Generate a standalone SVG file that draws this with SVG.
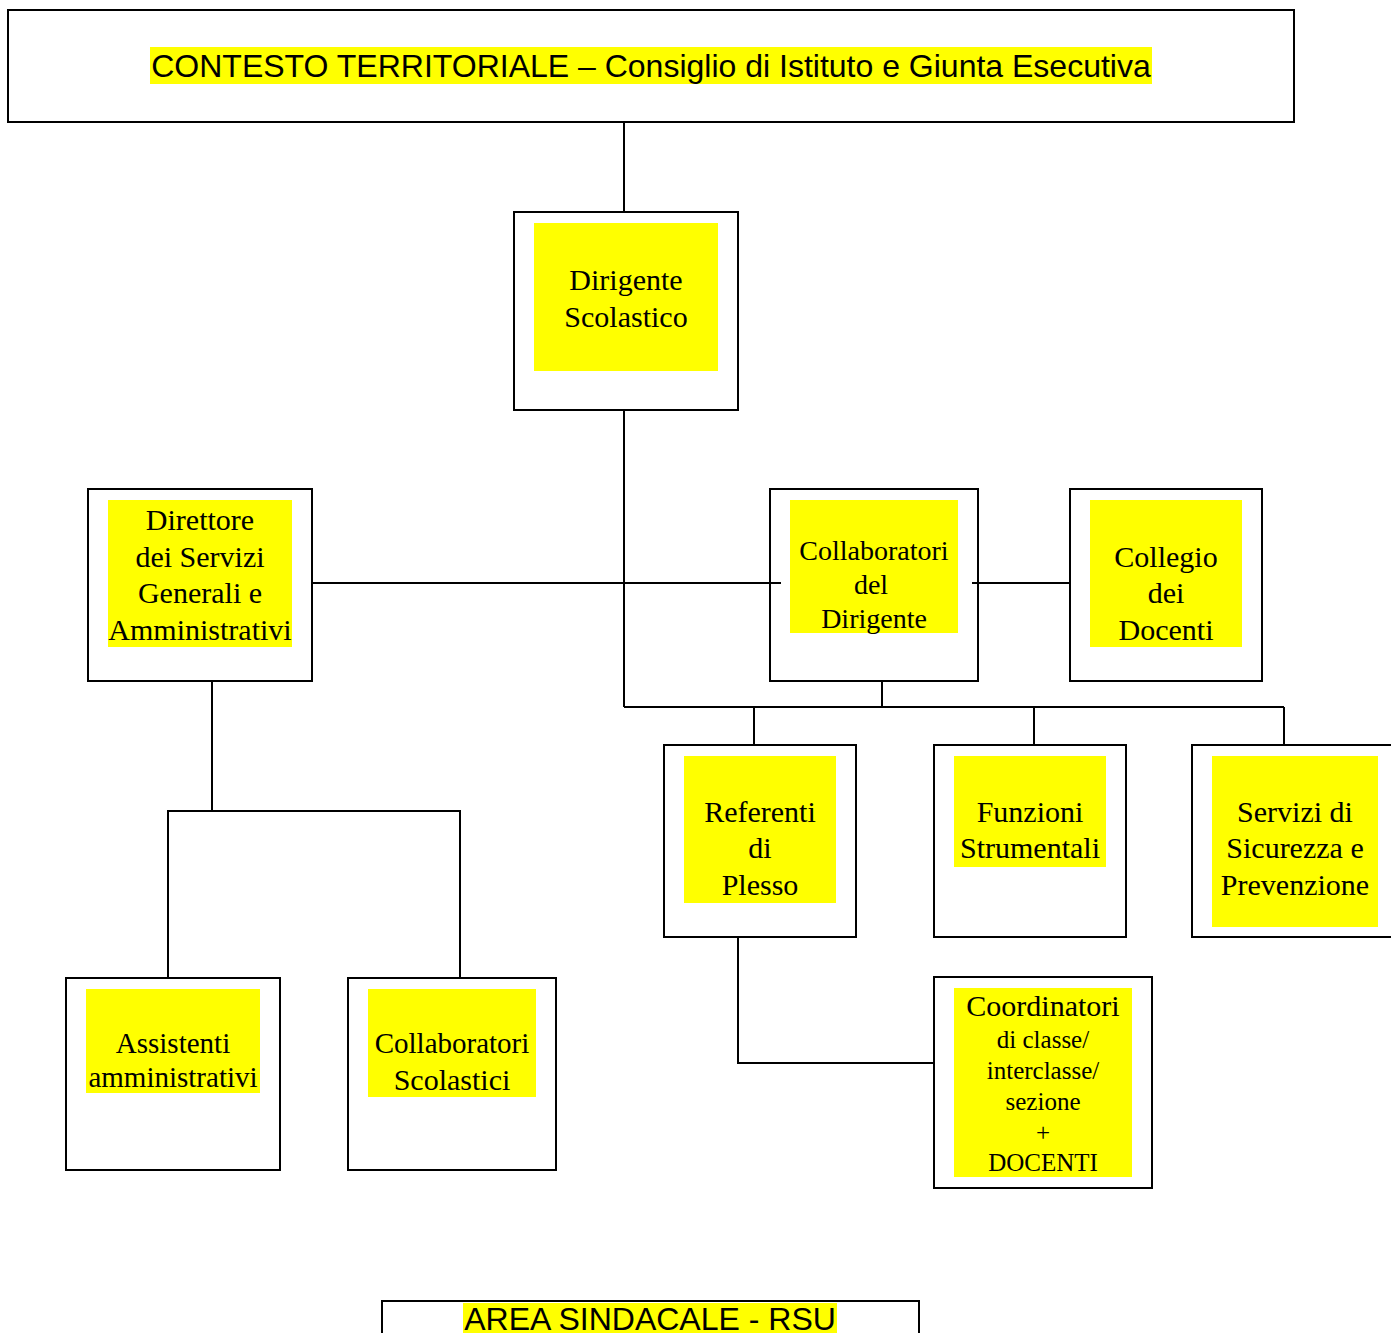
<svg xmlns="http://www.w3.org/2000/svg" width="1391" height="1333" viewBox="0 0 1391 1333">
<style>
.box{fill:#fff;stroke:#000;stroke-width:2}
.hl{fill:#ffff00}
.t{font-family:"Liberation Serif","Times New Roman",serif;font-size:30px;text-anchor:middle;fill:#000}
.s{font-family:"Liberation Sans",Arial,sans-serif;font-size:32px;text-anchor:middle;fill:#000}
.sm{font-size:25px}
.c{fill:none;stroke:#000;stroke-width:2}
</style>
<rect width="1391" height="1333" fill="#fff"/>
<g id="contesto">
<rect class="box" x="8" y="10" width="1286" height="112"/>
<rect class="hl" x="150" y="47" width="1002" height="37"/>
<text class="s" x="651" y="77">CONTESTO TERRITORIALE – Consiglio di Istituto e Giunta Esecutiva</text>
</g>
<g id="dirigente">
<rect class="box" x="514" y="212" width="224" height="198"/>
<rect class="hl" x="534" y="223" width="184" height="148"/>
<text class="t" x="626" y="290">Dirigente</text>
<text class="t" x="626" y="327">Scolastico</text>
</g>
<g id="direttore">
<rect class="box" x="88" y="489" width="224" height="192"/>
<rect class="hl" x="108" y="500" width="184" height="147"/>
<text class="t" x="200" y="530">Direttore</text>
<text class="t" x="200" y="567">dei Servizi</text>
<text class="t" x="200" y="603">Generali e</text>
<text class="t" x="200" y="640">Amministrativi</text>
</g>
<g id="collaboratori-dirigente">
<rect class="box" x="770" y="489" width="208" height="192"/>
<rect class="hl" x="790" y="500" width="168" height="133"/>
<text class="t" x="874" y="560" style="font-size:28px">Collaboratori</text>
<text class="t" x="871" y="594" style="font-size:28px">del</text>
<text class="t" x="874" y="628" style="font-size:28px">Dirigente</text>
</g>
<g id="collegio">
<rect class="box" x="1070" y="489" width="192" height="192"/>
<rect class="hl" x="1090" y="500" width="152" height="147"/>
<text class="t" x="1166" y="567">Collegio</text>
<text class="t" x="1166" y="603">dei</text>
<text class="t" x="1166" y="640">Docenti</text>
</g>
<g id="referenti">
<rect class="box" x="664" y="745" width="192" height="192"/>
<rect class="hl" x="684" y="756" width="152" height="147"/>
<text class="t" x="760" y="822">Referenti</text>
<text class="t" x="760" y="858">di</text>
<text class="t" x="760" y="895">Plesso</text>
</g>
<g id="funzioni">
<rect class="box" x="934" y="745" width="192" height="192"/>
<rect class="hl" x="954" y="756" width="152" height="111"/>
<text class="t" x="1030" y="822">Funzioni</text>
<text class="t" x="1030" y="858">Strumentali</text>
</g>
<g id="servizi">
<rect class="box" x="1192" y="745" width="210" height="192"/>
<rect class="hl" x="1212" y="756" width="166" height="171"/>
<text class="t" x="1295" y="822">Servizi di</text>
<text class="t" x="1295" y="858">Sicurezza e</text>
<text class="t" x="1295" y="895">Prevenzione</text>
</g>
<g id="coordinatori">
<rect class="box" x="934" y="977" width="218" height="211"/>
<rect class="hl" x="954" y="988" width="178" height="189"/>
<text class="t" x="1043" y="1016">Coordinatori</text>
<text class="t sm" x="1043" y="1048">di classe/</text>
<text class="t sm" x="1043" y="1079">interclasse/</text>
<text class="t sm" x="1043" y="1110">sezione</text>
<text class="t sm" x="1043" y="1141">+</text>
<text class="t sm" x="1043" y="1171">DOCENTI</text>
</g>
<g id="assistenti">
<rect class="box" x="66" y="978" width="214" height="192"/>
<rect class="hl" x="86" y="989" width="174" height="104"/>
<text class="t" x="173" y="1053" style="font-size:29px">Assistenti</text>
<text class="t" x="173" y="1087" style="font-size:29px">amministrativi</text>
</g>
<g id="collaboratori-scolastici">
<rect class="box" x="348" y="978" width="208" height="192"/>
<rect class="hl" x="368" y="989" width="168" height="108"/>
<text class="t" x="452" y="1053" style="font-size:29px">Collaboratori</text>
<text class="t" x="452" y="1090">Scolastici</text>
</g>
<g id="area-sindacale">
<rect class="box" x="382" y="1301" width="537" height="40"/>
<rect class="hl" x="463" y="1303" width="374" height="30"/>
<text class="s" x="650" y="1330">AREA SINDACALE - RSU</text>
</g>
<g id="connectors">
<path class="c" d="M624,122V212"/>
<path class="c" d="M624,410V707"/>
<path class="c" d="M312,583H781"/>
<path class="c" d="M972,583H1070"/>
<path class="c" d="M882,681V707"/>
<path class="c" d="M624,707H1284"/>
<path class="c" d="M754,707V745M1034,707V745M1284,707V745"/>
<path class="c" d="M738,937V1063H934"/>
<path class="c" d="M212,681V811"/>
<path class="c" d="M168,978V811H460V978"/>
</g>
</svg>
